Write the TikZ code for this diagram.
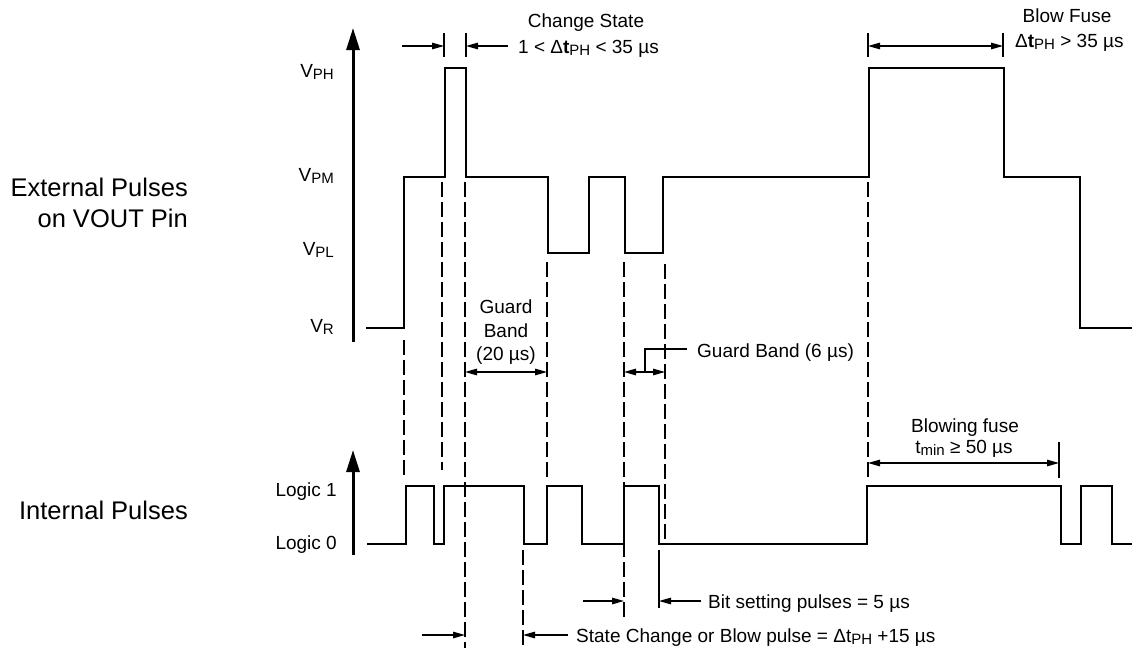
\documentclass[tikz,border=0pt]{standalone}
\usepackage{fontspec}
\setmainfont{Liberation Sans}
\usetikzlibrary{arrows.meta}
\newcommand\sbs[1]{\raisebox{-2.2pt}{\fontsize{15}{15}\selectfont #1}}
\begin{document}
\begin{tikzpicture}[x=1pt,y=-1pt,
  wave/.style={line width=1.7pt, line join=miter},
  axisarrow/.style={line width=3pt,-{Triangle[length=22pt,width=13pt]}},
  guide/.style={line width=1.2pt, dash pattern=on 15pt off 5pt},
  dim/.style={line width=1.3pt},
  tipto/.style={dim,-{Triangle[length=12pt,width=6.5pt]}},
  tipboth/.style={dim,{Triangle[length=12pt,width=6.5pt]}-{Triangle[length=12pt,width=6.5pt]}},
  lbl/.style={font=\fontsize{19}{24}\selectfont, inner sep=0pt},
  big/.style={font=\fontsize{25.5}{31}\selectfont, inner sep=0pt}]
\useasboundingbox (0,0) rectangle (1132,648);

% ---- axes
\coordinate (a1b) at (353,342); \coordinate (a1t) at (353,28);
\coordinate (a2b) at (353,555); \coordinate (a2t) at (353,450);
\draw[axisarrow] (a1b) -- (a1t);
\draw[axisarrow] (a2b) -- (a2t);

% ---- left labels
\node[big, anchor=base east] (ext1) at (188,196) {External Pulses};
\node[big, anchor=base east] (ext2) at (188,227) {on VOUT Pin};
\node[big, anchor=base east] (intp) at (188,519) {Internal Pulses};

\node[lbl, anchor=base east] (vph) at (334,77) {V\sbs{PH}};
\node[lbl, anchor=base east] (vpm) at (334,181) {V\sbs{PM}};
\node[lbl, anchor=base east] (vpl) at (334,255) {V\sbs{PL}};
\node[lbl, anchor=base east] (vr)  at (334,332) {V\sbs{R}};
\node[lbl, anchor=base east] (l1)  at (337,496) {Logic 1};
\node[lbl, anchor=base east] (l0)  at (337,549) {Logic 0};

% ---- external waveform
\draw[wave] (366,328) -| (404,177) -| (445,68) -| (466,177) -| (548,253)
  -| (589,177) -| (625,253) -| (663,177) -| (869,68) -| (1004,177)
  -| (1080,328) -- (1132,328);

% ---- internal waveform
\draw[wave] (367,544) -| (406,486) -| (434,544) -| (444,486) -| (524,544)
  -| (547,486) -| (582,544) -| (624,486) -| (659,544) -| (867,486)
  -| (1061,544) -| (1081,486) -| (1112,544) -- (1132,544);

% ---- dashed guides
\coordinate (g1a) at (404,340); \coordinate (g1b) at (404,478);
\coordinate (g2a) at (442,182); \coordinate (g2b) at (442,470);
\coordinate (g3a) at (465,182); \coordinate (g3b) at (465,648);
\coordinate (g4a) at (547,262); \coordinate (g4b) at (547,480);
\coordinate (g5a) at (624,262); \coordinate (g5b) at (624,618);
\coordinate (g6a) at (665,264); \coordinate (g6b) at (665,543);
\coordinate (g7a) at (868,182); \coordinate (g7b) at (868,480);
\coordinate (g8a) at (523,550); \coordinate (g8b) at (523,648);
\foreach \g in {1,...,8} \draw[guide] (g\g a) -- (g\g b);

% ---- change state
\node[lbl, anchor=base] (cs1) at (586,27) {Change State};
\node[lbl, anchor=base west] (cs2) at (518,53) {1 < Δ\textbf{t}\sbs{PH} < 35 µs};
\coordinate (t1a) at (444,33); \coordinate (t1b) at (444,57);
\coordinate (t2a) at (466,33); \coordinate (t2b) at (466,57);
\draw[dim] (t1a) -- (t1b); \draw[dim] (t2a) -- (t2b);
\coordinate (c1s) at (402,46); \coordinate (c1e) at (444,46);
\coordinate (c2s) at (508,46); \coordinate (c2e) at (466,46);
\draw[tipto] (c1s) -- (c1e);
\draw[tipto] (c2s) -- (c2e);

% ---- blow fuse
\node[lbl, anchor=base] (bf1) at (1067,22) {Blow Fuse};
\node[lbl, anchor=base west] (bf2) at (1015,47) {Δ\textbf{t}\sbs{PH} > 35 µs};
\coordinate (t3a) at (868,33); \coordinate (t3b) at (868,57);
\coordinate (t4a) at (1003,33); \coordinate (t4b) at (1003,57);
\draw[dim] (t3a) -- (t3b); \draw[dim] (t4a) -- (t4b);
\coordinate (b1s) at (868,46); \coordinate (b1e) at (1003,46);
\draw[tipboth] (b1s) -- (b1e);

% ---- guard band 20
\node[lbl, anchor=base] (gb1) at (506,313) {Guard};
\node[lbl, anchor=base] (gb2) at (506,337) {Band};
\node[lbl, anchor=base] (gb3) at (506,360) {(20 µs)};
\coordinate (gbs) at (465,372); \coordinate (gbe) at (547,372);
\draw[tipboth] (gbs) -- (gbe);

% ---- guard band 6
\coordinate (gcs) at (624,372); \coordinate (gce) at (665,372);
\draw[tipboth] (gcs) -- (gce);
\node[lbl, anchor=base west] (gb6) at (697,357) {Guard Band (6 µs)};
\coordinate (ld1) at (645,372); \coordinate (ld2) at (645,349); \coordinate (ld3) at (687,349);
\draw[dim] (ld1) -- (ld2) -- (ld3);

% ---- blowing fuse
\node[lbl, anchor=base] (bw1) at (965,432) {Blowing fuse};
\node[lbl, anchor=base] (bw2) at (964,453) {t\sbs{min} ≥ 50 µs};
\coordinate (t5a) at (1059,442); \coordinate (t5b) at (1059,478);
\draw[dim] (t5a) -- (t5b);
\coordinate (bws) at (868,463); \coordinate (bwe) at (1059,463);
\draw[tipboth] (bws) -- (bwe);

% ---- bit setting pulses
\coordinate (t6a) at (659,550); \coordinate (t6b) at (659,608);
\draw[dim] (t6a) -- (t6b);
\coordinate (p1s) at (583,601); \coordinate (p1e) at (624,601);
\coordinate (p2s) at (701,601); \coordinate (p2e) at (659,601);
\draw[tipto] (p1s) -- (p1e);
\draw[tipto] (p2s) -- (p2e);
\node[lbl, anchor=base west] (bsp) at (708,608) {Bit setting pulses = 5 µs};

% ---- state change
\coordinate (s1s) at (422,635); \coordinate (s1e) at (465,635);
\coordinate (s2s) at (568,635); \coordinate (s2e) at (523,635);
\draw[tipto] (s1s) -- (s1e);
\draw[tipto] (s2s) -- (s2e);
\node[lbl, anchor=base west] (scp) at (576,642) {State Change or Blow pulse = Δt\sbs{PH} +15 µs};
\end{tikzpicture}
\end{document}
